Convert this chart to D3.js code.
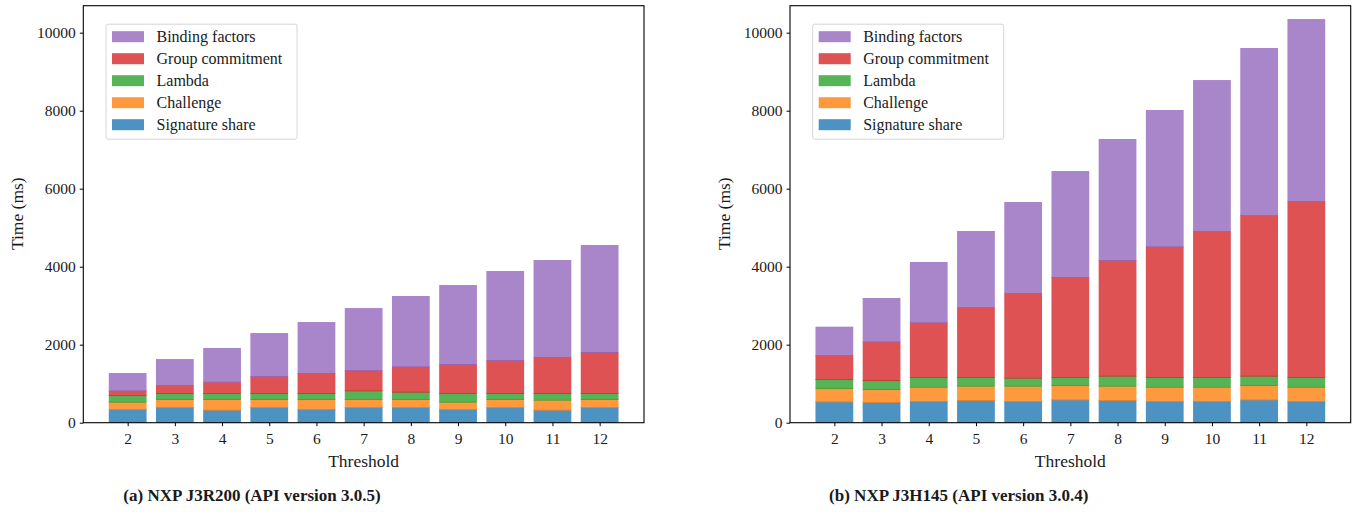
<!DOCTYPE html>
<html lang="en">
<head>
    <meta charset="UTF-8">
    <title>Signing time per threshold</title>
    <script src="https://d3js.org/d3.v7.min.js"></script>
    <style>
        body {
            margin: 0;
            background: #fff;
        }
        svg text {
            font-family: "Liberation Serif", "DejaVu Serif", serif;
            fill: #1a1a1a;
        }
        .caption {
            font-weight: bold;
        }
    </style>
</head>
<body>
    <svg id="fig" width="1353" height="512"></svg>

    <script>
        const thresholds = [2, 3, 4, 5, 6, 7, 8, 9, 10, 11, 12];
        const seriesNames = ["Signature share", "Challenge", "Lambda", "Group commitment", "Binding factors"];
        const colors = ["#1f77b4", "#ff7f0e", "#2ca02c", "#d62728", "#9467bd"];
        const yTicks = [0, 2000, 4000, 6000, 8000, 10000];

        // NXP J3R200
        const sigA = [350, 402, 333, 402, 350, 402, 402, 350, 402, 333, 402];
        const chalA = [188, 205, 274, 205, 257, 205, 205, 188, 205, 257, 205];
        const lambdaA = [171, 154, 154, 154, 154, 222, 188, 223, 154, 171, 154];
        const groupA = [120, 205, 290, 436, 513, 521, 649, 743, 846, 923, 1051];
        const bindA = [445, 666, 864, 1102, 1307, 1590, 1804, 2026, 2282, 2487, 2744];

        // NXP J3H145
        const sigB = [547, 530, 556, 581, 556, 598, 581, 556, 556, 598, 556];
        const chalB = [342, 333, 367, 368, 393, 368, 368, 367, 367, 368, 367];
        const lambdaB = [231, 231, 248, 222, 205, 205, 256, 248, 248, 239, 248];
        const groupB = [615, 991, 1402, 1795, 2171, 2564, 2966, 3350, 3744, 4120, 4513];
        const bindB = [727, 1112, 1547, 1949, 2333, 2718, 3103, 3496, 3871, 4282, 4666];

        const panels = [
            { caption: "(a) NXP J3R200 (API version 3.0.5)", series: [sigA, chalA, lambdaA, groupA, bindA], dx: 0 },
            { caption: "(b) NXP J3H145 (API version 3.0.4)", series: [sigB, chalB, lambdaB, groupB, bindB], dx: 706.7 }
        ];

        const margin = { left: 83.3, top: 5.7 },
            width = 560.7,
            height = 417;

        const svg = d3.select("#fig");

        const x = d3.scaleLinear().domain([1.06, 12.94]).range([0, width]);
        const y = d3.scaleLinear().domain([0, 10692]).range([height, 0]);

        panels.forEach(p => {
            const g = svg.append("g")
                .attr("transform", `translate(${p.dx + margin.left},${margin.top})`);

            const rows = thresholds.map((t, i) => {
                const row = { t: t };
                seriesNames.forEach((name, k) => row[name] = p.series[k][i]);
                return row;
            });
            const stacked = d3.stack().keys(seriesNames)(rows);

            stacked.forEach((layer, k) => {
                g.append("g")
                    .attr("fill", colors[k])
                    .attr("fill-opacity", 0.8)
                    .selectAll("rect")
                    .data(layer)
                    .enter()
                    .append("rect")
                    .attr("x", d => x(d.data.t - 0.4))
                    .attr("width", x(0.8) - x(0))
                    .attr("y", d => y(d[1]))
                    .attr("height", d => y(d[0]) - y(d[1]) + (k > 0 ? 1 : 0));
            });

            g.append("g")
                .attr("transform", `translate(0,${height})`)
                .call(d3.axisBottom(x).tickValues(thresholds).tickSize(3.5).tickPadding(7).tickFormat(d3.format("d")))
                .call(a => a.select(".domain").remove())
                .selectAll("text")
                .style("font-size", "15.5px");

            g.append("g")
                .call(d3.axisLeft(y).tickValues(yTicks).tickSize(3.5).tickPadding(4).tickFormat(d3.format("d")))
                .call(a => a.select(".domain").remove())
                .selectAll("text")
                .style("font-size", "15.5px");

            g.append("rect")
                .attr("width", width)
                .attr("height", height)
                .attr("fill", "none")
                .attr("stroke", "#000")
                .attr("stroke-width", 1.1);

            g.append("text")
                .attr("x", width / 2)
                .attr("y", height + 44)
                .attr("text-anchor", "middle")
                .style("font-size", "17.5px")
                .text("Threshold");

            g.append("text")
                .attr("transform", `translate(${-margin.left + 23},${208}) rotate(-90)`)
                .attr("text-anchor", "middle")
                .style("font-size", "17.5px")
                .text("Time (ms)");

            const legend = g.append("g").attr("transform", "translate(22.7,18.5)");
            legend.append("rect")
                .attr("width", 191)
                .attr("height", 115)
                .attr("rx", 2)
                .attr("fill", "#fff")
                .attr("fill-opacity", 0.8)
                .attr("stroke", "#d6d6d6");

            const order = [4, 3, 2, 1, 0];
            const item = legend.selectAll(".item")
                .data(order)
                .enter()
                .append("g")
                .attr("class", "item")
                .attr("transform", (d, i) => `translate(6,${12.5 + i * 22})`);
            item.append("rect")
                .attr("y", -5.5)
                .attr("width", 32)
                .attr("height", 11)
                .attr("fill", d => colors[d])
                .attr("fill-opacity", 0.8);
            item.append("text")
                .attr("x", 44.5)
                .attr("dy", "0.35em")
                .style("font-size", "16px")
                .text(d => seriesNames[d]);

            svg.append("text")
                .attr("class", "caption")
                .attr("x", p.dx + 252)
                .attr("y", 501)
                .attr("text-anchor", "middle")
                .style("font-size", "17px")
                .text(p.caption);
        });
    </script>
</body>
</html>
